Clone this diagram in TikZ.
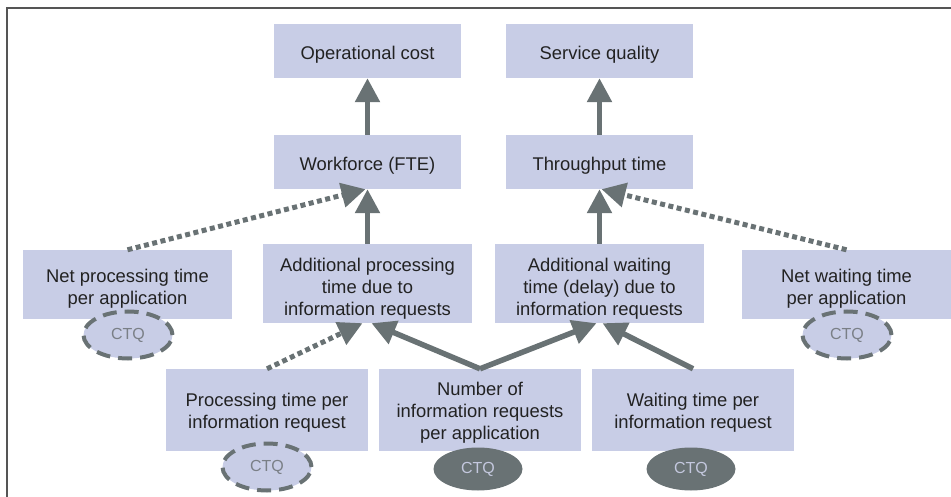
\documentclass[tikz,border=0pt]{standalone}
\usepackage{fontspec}
\setmainfont{Liberation Sans}
\usetikzlibrary{arrows.meta,shapes.geometric}
\definecolor{boxfill}{HTML}{C8CDE6}
\definecolor{arrowgray}{HTML}{697274}
\definecolor{txt}{HTML}{222222}
\definecolor{ctqtxt}{HTML}{7A7F86}
\definecolor{ctqlight}{HTML}{C4C8DE}
\definecolor{framegray}{HTML}{555555}
\tikzset{
  boxtext/.style={inner sep=0pt, align=center, text=txt,
    font=\fontsize{18.4}{22}\selectfont},
  box/.style 2 args={rectangle, fill=boxfill, inner sep=0pt,
    label={[boxtext, yshift=#2]center:{#1}}},
  ctqopen/.style={ellipse, draw=arrowgray, fill=boxfill, line width=4pt,
    dash pattern=on 14pt off 8pt, minimum width=89pt, minimum height=47pt,
    inner sep=0pt, text=ctqtxt, font=\fontsize{16}{18}\selectfont},
  ctqfull/.style={ellipse, fill=arrowgray, minimum width=89pt, minimum height=43pt,
    inner sep=0pt, text=ctqlight, font=\fontsize{16}{18}\selectfont},
  solidarrow/.style={draw=arrowgray, line width=5.5pt,
    -{Triangle[width=24pt,length=24pt]}, arrowgray},
  dotarrow/.style={draw=arrowgray, line width=5pt, dash pattern=on 5pt off 3.5pt,
    -{Triangle[width=24pt,length=24pt]}, arrowgray},
}
\begin{document}
\begin{tikzpicture}[x=1pt,y=-1pt]
\useasboundingbox (0,0) rectangle (951,497);
\draw[framegray, line width=1.5pt] (7,497) -- (7,8) -- (951,8);

\node[box={Operational cost}{-4pt}, minimum width=187pt, minimum height=54pt] (oc) at (367.5,51) {};
\node[box={Workforce (FTE)}{-4pt}, minimum width=187pt, minimum height=54pt] (wf) at (367.5,162) {};
\node[box={Service quality}{-4pt}, minimum width=187pt, minimum height=54pt] (sq) at (599.5,51) {};
\node[box={Throughput time}{-4pt}, minimum width=187pt, minimum height=54pt] (tt) at (599.5,162) {};

\node[box={Additional processing\\time due to\\information requests}{-5pt}, minimum width=209pt, minimum height=79pt] (ap) at (367.5,283.5) {};
\node[box={Additional waiting\\time (delay) due to\\information requests}{-5pt}, minimum width=209pt, minimum height=79pt] (aw) at (599.5,283.5) {};
\node[box={Net processing time\\per application}{-4pt}, minimum width=209pt, minimum height=69pt] (np) at (127.5,284.5) {};
\node[box={Net waiting time\\per application}{-4pt}, minimum width=209pt, minimum height=69pt] (nw) at (846.5,284.5) {};

\node[box={Processing time per\\information request}{-3pt}, minimum width=202pt, minimum height=82pt] (pt) at (267,410) {};
\node[box={Number of\\information requests\\per application}{-2.5pt}, minimum width=202pt, minimum height=82pt] (nr) at (480,410) {};
\node[box={Waiting time per\\information request}{-3pt}, minimum width=202pt, minimum height=82pt] (wt) at (693,410) {};

\node[ctqopen] (c1) at (128,335) {CTQ};
\node[ctqopen] (c5) at (847,335) {CTQ};
\node[ctqopen] (c2) at (267,467) {CTQ};
\node[ctqfull] (c3) at (478,469) {CTQ};
\node[ctqfull] (c4) at (691,469) {CTQ};

\draw[solidarrow] (wf.north) -- (oc.south);
\draw[solidarrow] (tt.north) -- (sq.south);
\draw[solidarrow] (ap.north) -- (wf.south);
\draw[solidarrow] (aw.north) -- (tt.south);
\draw[dotarrow] (np.north) -- ([xshift=-2pt]wf.south);
\draw[dotarrow] (nw.north) -- ([xshift=2pt]tt.south);
\draw[dotarrow] (pt.north) -- ([xshift=-5pt]ap.south);
\draw[solidarrow] (nr.north) -- ([xshift=4pt]ap.south);
\draw[solidarrow] (nr.north) -- ([xshift=-3pt]aw.south);
\draw[solidarrow] (wt.north) -- ([xshift=3pt]aw.south);
\end{tikzpicture}
\end{document}
